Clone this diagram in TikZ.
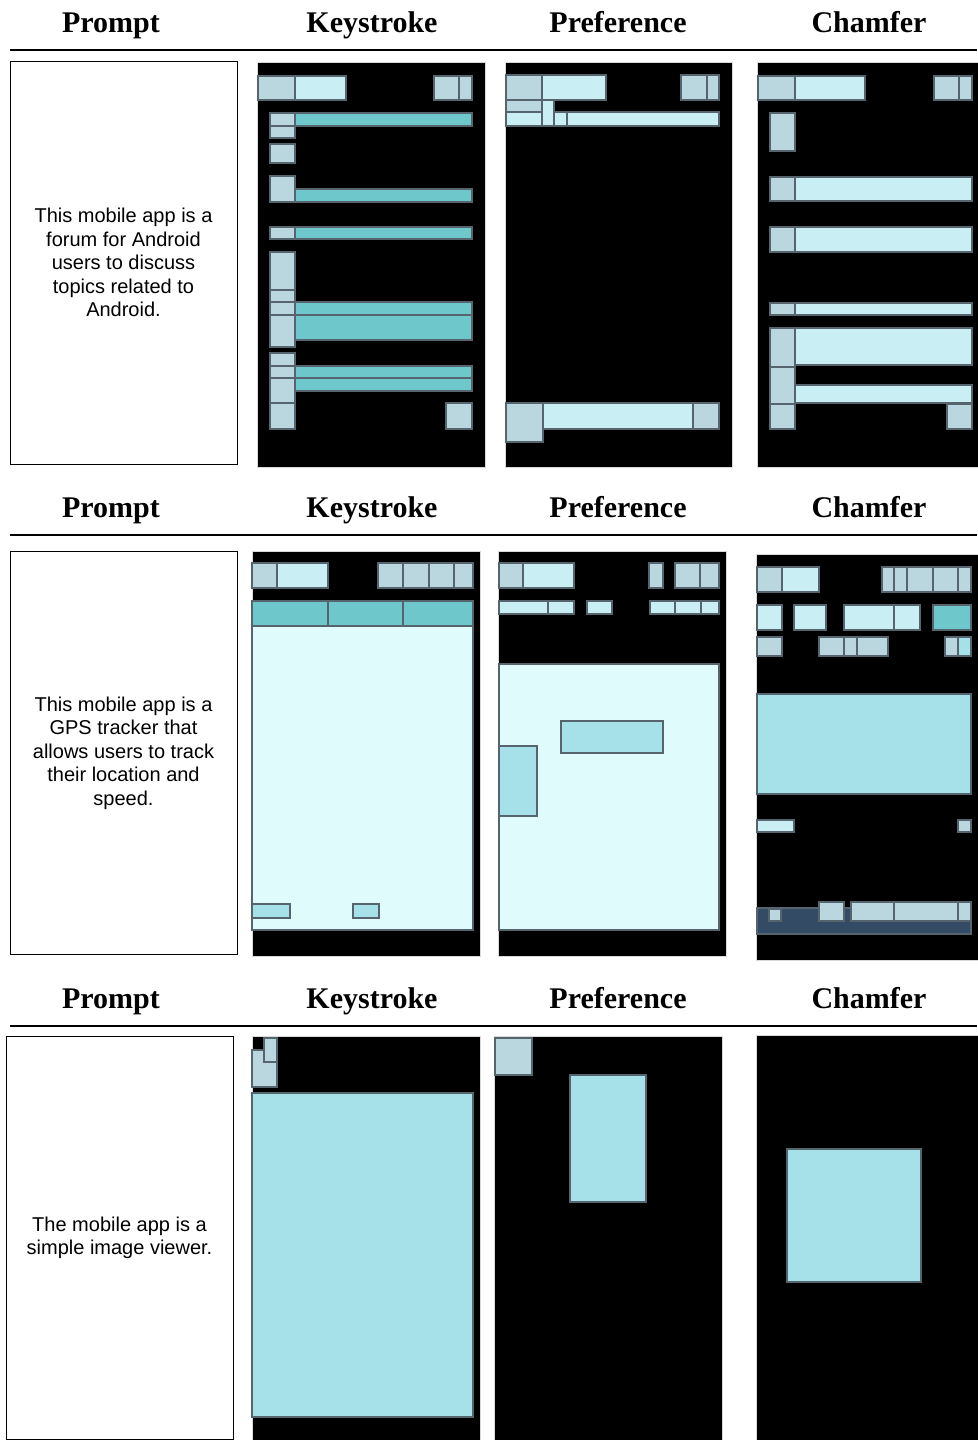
\documentclass[tikz,border=0pt]{standalone}
\usepackage{fontspec}
\setmainfont{Liberation Serif}
\newfontfamily\arialfont{Liberation Sans}
\usetikzlibrary{positioning}

\definecolor{uiline}{HTML}{56656D}
\definecolor{uigray}{HTML}{BAD6DE}
\definecolor{uicyan}{HTML}{C9EFF5}
\definecolor{uiteal}{HTML}{6EC8CB}
\definecolor{uimid}{HTML}{A6E0E8}
\definecolor{uipale}{HTML}{E0FBFC}
\definecolor{uidark}{HTML}{344B66}

\tikzset{
  head/.style={font=\bfseries\fontsize{30}{36}\selectfont, anchor=base},
  pbox/.style={draw, line width=1pt, minimum width=227pt, minimum height=403pt,
    align=center, font=\arialfont\fontsize{20}{23.5}\selectfont},
  screen/.style={fill=black, draw=black!15, line width=0.6pt},
  ui/.style={draw=uiline, line width=1.1pt},
  G/.style={ui, fill=uigray},
  C/.style={ui, fill=uicyan},
  T/.style={ui, fill=uiteal},
  M/.style={ui, fill=uimid},
  P/.style={ui, fill=uipale},
  D/.style={ui, fill=uidark}
}

\begin{document}
\begin{tikzpicture}[x=1pt, y=-1pt]
    \useasboundingbox (0,0) rectangle (977,1440);

    % column heads and rules
    \foreach \dy/\r in {0/1, 485/2, 976/3} {
        \node[head] (prompt\r) at (111,32+\dy) {Prompt};
        \node[head] (key\r) at (372,32+\dy) {Keystroke};
        \node[head] (pref\r) at (618,32+\dy) {Preference};
        \node[head] (cham\r) at (869,32+\dy) {Chamfer};
        \draw[line width=1.6pt] (10,50+\dy) -- (977,50+\dy);
    }

    % prompts
    \node[pbox] (text1) at (123.5,262.5) {This mobile app is a\\forum for Android\\users to discuss\\topics related to\\Android.};
    \node[pbox] (text2) at (123.5,753) {This mobile app is a\\GPS tracker that\\allows users to track\\their location and\\speed.};
    \node[pbox] (text3) at (119.5,1238) {The mobile app is a\\simple image viewer.};

    % screens
    \draw[screen] (257,62) rectangle (485,467);
    \draw[screen] (505,62) rectangle (732,467);
    \draw[screen] (757,62) rectangle (978,467);
    \draw[screen] (252,551) rectangle (480,956);
    \draw[screen] (498,551) rectangle (726,956);
    \draw[screen] (756,554) rectangle (978,960);
    \draw[screen] (252,1036) rectangle (480,1441);
    \draw[screen] (494,1036) rectangle (722,1441);
    \draw[screen] (756,1035) rectangle (978,1441);

    % row 1, keystroke
    \draw[G] (258,76) rectangle (295,100);
    \draw[C] (295,76) rectangle (346,100);
    \draw[G] (434,76) rectangle (459,100);
    \draw[G] (459,76) rectangle (472,100);
    \draw[G] (270,113) rectangle (295,126);
    \draw[T] (295,113) rectangle (472,126);
    \draw[G] (270,126) rectangle (295,138);
    \draw[G] (270,144) rectangle (295,163);
    \draw[G] (270,176) rectangle (295,202);
    \draw[T] (295,189) rectangle (472,202);
    \draw[G] (270,227) rectangle (295,239);
    \draw[T] (295,227) rectangle (472,239);
    \draw[G] (270,252) rectangle (295,290);
    \draw[G] (270,290) rectangle (295,302);
    \draw[G] (270,302) rectangle (295,315);
    \draw[G] (270,315) rectangle (295,347);
    \draw[T] (295,302) rectangle (472,315);
    \draw[T] (295,315) rectangle (472,340);
    \draw[G] (270,353) rectangle (295,366);
    \draw[G] (270,366) rectangle (295,378);
    \draw[G] (270,378) rectangle (295,403);
    \draw[G] (270,403) rectangle (295,429);
    \draw[T] (295,366) rectangle (472,378);
    \draw[T] (295,378) rectangle (472,391);
    \draw[G] (446,403) rectangle (472,429);

    % row 1, preference
    \draw[G] (506,75) rectangle (542,100);
    \draw[C] (542,75) rectangle (606,100);
    \draw[G] (681,75) rectangle (707,100);
    \draw[G] (707,75) rectangle (719,100);
    \draw[G] (506,100) rectangle (542,112);
    \draw[C] (506,112) rectangle (542,126);
    \draw[C] (542,100) rectangle (554,126);
    \draw[C] (554,112) rectangle (567,126);
    \draw[C] (567,112) rectangle (719,126);
    \draw[G] (506,403) rectangle (543,442);
    \draw[C] (543,403) rectangle (693,429);
    \draw[G] (693,403) rectangle (719,429);

    % row 1, chamfer
    \draw[G] (758,76) rectangle (795,100);
    \draw[C] (795,76) rectangle (865,100);
    \draw[G] (934,76) rectangle (959,100);
    \draw[G] (959,76) rectangle (972,100);
    \draw[G] (770,113) rectangle (795,151);
    \draw[G] (770,177) rectangle (795,201);
    \draw[C] (795,177) rectangle (972,201);
    \draw[G] (770,227) rectangle (795,252);
    \draw[C] (795,227) rectangle (972,252);
    \draw[G] (770,303) rectangle (795,315);
    \draw[C] (795,303) rectangle (972,315);
    \draw[G] (770,328) rectangle (795,367);
    \draw[C] (795,328) rectangle (972,365);
    \draw[G] (770,367) rectangle (795,404);
    \draw[C] (795,385) rectangle (972,403);
    \draw[G] (770,404) rectangle (795,429);
    \draw[G] (947,404) rectangle (972,429);

    % row 2, keystroke
    \draw[G] (252,563) rectangle (277,588);
    \draw[C] (277,563) rectangle (328,588);
    \draw[G] (378,563) rectangle (403,588);
    \draw[G] (403,563) rectangle (429,588);
    \draw[G] (429,563) rectangle (454,588);
    \draw[G] (454,563) rectangle (473,588);
    \draw[T] (252,601) rectangle (328,626);
    \draw[T] (328,601) rectangle (403,626);
    \draw[T] (403,601) rectangle (473,626);
    \draw[P] (252,626) rectangle (473,930);
    \draw[M] (252,904) rectangle (290,918);
    \draw[M] (353,904) rectangle (379,918);

    % row 2, preference
    \draw[G] (499,563) rectangle (523,588);
    \draw[C] (523,563) rectangle (574,588);
    \draw[G] (649,563) rectangle (663,588);
    \draw[G] (675,563) rectangle (700,588);
    \draw[G] (700,563) rectangle (719,588);
    \draw[C] (499,601) rectangle (548,614);
    \draw[C] (548,601) rectangle (574,614);
    \draw[C] (587,601) rectangle (612,614);
    \draw[C] (650,601) rectangle (675,614);
    \draw[C] (675,601) rectangle (701,614);
    \draw[C] (701,601) rectangle (719,614);
    \draw[P] (499,664) rectangle (719,930);
    \draw[M] (561,721) rectangle (663,753);
    \draw[M] (499,746) rectangle (537,816);

    % row 2, chamfer
    \draw[G] (757,567) rectangle (782,592);
    \draw[C] (782,567) rectangle (819,592);
    \draw[G] (882,567) rectangle (894,592);
    \draw[G] (894,567) rectangle (907,592);
    \draw[G] (907,567) rectangle (933,592);
    \draw[G] (933,567) rectangle (958,592);
    \draw[G] (958,567) rectangle (971,592);
    \draw[C] (757,605) rectangle (782,630);
    \draw[C] (794,605) rectangle (826,630);
    \draw[C] (844,605) rectangle (894,630);
    \draw[C] (894,605) rectangle (920,630);
    \draw[T] (933,605) rectangle (971,630);
    \draw[G] (757,637) rectangle (782,656);
    \draw[G] (819,637) rectangle (844,656);
    \draw[G] (844,637) rectangle (857,656);
    \draw[G] (857,637) rectangle (888,656);
    \draw[G] (945,637) rectangle (958,656);
    \draw[M] (958,637) rectangle (971,656);
    \draw[M] (757,694) rectangle (971,794);
    \draw[C] (757,820) rectangle (794,832);
    \draw[G] (958,820) rectangle (971,832);
    \draw[D] (757,908) rectangle (971,934);
    \draw[G] (769,909) rectangle (781,921);
    \draw[G] (819,902) rectangle (844,921);
    \draw[G] (851,902) rectangle (894,921);
    \draw[G] (894,902) rectangle (958,921);
    \draw[G] (958,902) rectangle (971,921);

    % row 3
    \draw[G] (252,1050) rectangle (277,1087);
    \draw[G] (264,1038) rectangle (277,1062);
    \draw[M] (252,1093) rectangle (473,1417);
    \draw[G] (495,1038) rectangle (532,1075);
    \draw[M] (570,1075) rectangle (646,1202);
    \draw[M] (787,1149) rectangle (921,1282);
\end{tikzpicture}
\end{document}
